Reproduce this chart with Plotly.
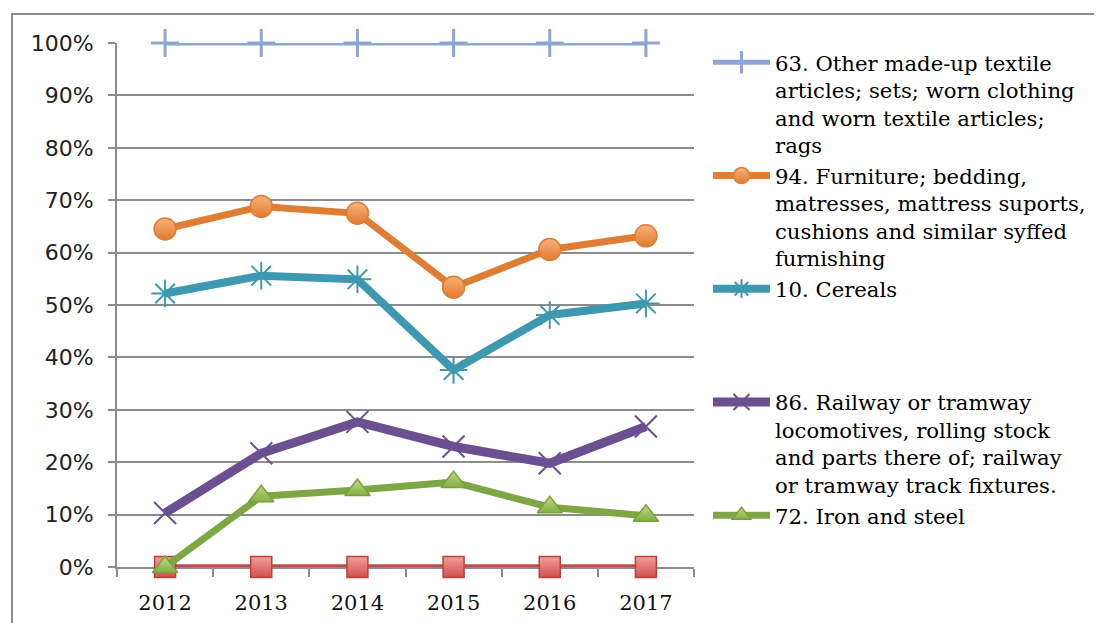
import plotly.graph_objects as go

years = ["2012", "2013", "2014", "2015", "2016", "2017"]

names = [
    "63. Other made-up textile<br>articles; sets; worn clothing<br>and worn textile articles;<br>rags",
    "94. Furniture; bedding,<br>matresses, mattress suports,<br>cushions and similar syffed<br>furnishing",
    "10. Cereals<br>&nbsp;<br>&nbsp;<br>&nbsp;",
    "86. Railway or tramway<br>locomotives, rolling stock<br>and parts there of; railway<br>or tramway track fixtures.",
    "72. Iron and steel",
]

textile = [1.0, 1.0, 1.0, 1.0, 1.0, 1.0]
furniture = [0.645, 0.688, 0.675, 0.534, 0.606, 0.632]
cereals = [0.522, 0.556, 0.549, 0.376, 0.481, 0.503]
railway = [0.103, 0.217, 0.277, 0.230, 0.198, 0.268]
iron = [0.0, 0.135, 0.147, 0.162, 0.114, 0.098]
other_zero = [0.0, 0.0, 0.0, 0.0, 0.0, 0.0]

fig = go.Figure()

# unlabeled series (no legend entry)
fig.add_trace(go.Scatter(
    x=years, y=other_zero, mode="lines+markers", showlegend=False,
    line=dict(color="#BE4B48", width=5.5),
    marker=dict(symbol="square", size=21, color="#F29E9B",
                gradient=dict(type="vertical", color="#D2504C"),
                line=dict(color="#B8413E", width=1.5)),
    cliponaxis=False))

fig.add_trace(go.Scatter(
    x=years, y=textile, mode="lines+markers", name=names[0],
    line=dict(color="#8EA6D3", width=5),
    marker=dict(symbol="cross-thin", size=20, color="#8EA6D3",
                line=dict(color="#8EA6D3", width=3)),
    cliponaxis=False))

fig.add_trace(go.Scatter(
    x=years, y=furniture, mode="lines+markers", name=names[1],
    line=dict(color="#DF7D34", width=7),
    marker=dict(symbol="circle", size=22, color="#F7B27C",
                gradient=dict(type="vertical", color="#E27A2E"),
                line=dict(color="#DF7D34", width=1.5)),
    cliponaxis=False))

fig.add_trace(go.Scatter(
    x=years, y=cereals, mode="lines+markers", name=names[2],
    line=dict(color="#3E98B0", width=8),
    marker=dict(symbol="asterisk-open", size=23, color="#3E98B0",
                line=dict(color="#3E98B0", width=2)),
    cliponaxis=False))

fig.add_trace(go.Scatter(
    x=years, y=railway, mode="lines+markers", name=names[3],
    line=dict(color="#6B5091", width=9),
    marker=dict(symbol="x-thin-open", size=22, color="#6B5091",
                line=dict(color="#6B5091", width=2)),
    cliponaxis=False))

fig.add_trace(go.Scatter(
    x=years, y=iron, mode="lines+markers", name=names[4],
    line=dict(color="#7FA645", width=7),
    marker=dict(symbol="triangle-up", size=22, color="#BADB85",
                gradient=dict(type="vertical", color="#86AE45"),
                line=dict(color="#7AA13A", width=1.5)),
    cliponaxis=False))

OFF = 8  # page body margin
W, H = 1102, 623
L, R, T, B = 117 - OFF, W - (694 - OFF), 43 - OFF, H - (567 - OFF)
pw, ph = W - L - R, H - T - B

def px_x(p):
    return (p - OFF - L) / pw

def px_y(p):
    return (H - B - (p - OFF)) / ph

fig.add_shape(type="rect", xref="paper", yref="paper",
              x0=px_x(12), x1=px_x(1200), y0=px_y(700), y1=px_y(14),
              line=dict(color="#8C8C8C", width=2), layer="below")

fig.update_layout(
    width=W, height=H,
    margin=dict(l=L, r=R, t=T, b=B, autoexpand=False),
    plot_bgcolor="white", paper_bgcolor="white",
    legend=dict(
        x=px_x(708), xanchor="left", y=px_y(42), yanchor="top",
        valign="top", itemwidth=57, bgcolor="rgba(0,0,0,0)",
        font=dict(family="DejaVu Serif", size=21.2, color="#000"),
        tracegroupgap=0, maxheight=620,
    ),
    xaxis=dict(
        type="category", range=[-0.5, 5.5],
        showgrid=False, showline=True, linecolor="#8C8C8C", linewidth=2,
        ticks="outside", tickson="boundaries", ticklen=8, tickcolor="#8C8C8C", tickwidth=2,
        tickfont=dict(family="DejaVu Serif", size=21, color="#111"),
        ticklabelstandoff=16, layer="below traces",
    ),
    yaxis=dict(
        range=[0, 1], tickvals=[0, 0.1, 0.2, 0.3, 0.4, 0.5, 0.6, 0.7, 0.8, 0.9, 1.0],
        tickformat=".0%",
        showgrid=True, gridcolor="#8C8C8C", gridwidth=1.5, zeroline=False,
        showline=True, linecolor="#8C8C8C", linewidth=2,
        ticks="outside", ticklen=7, tickcolor="#8C8C8C", tickwidth=2,
        tickfont=dict(family="DejaVu Sans", size=22, color="#222"),
        ticklabelstandoff=10, layer="below traces",
    ),
)

fig.write_html("out.html")
